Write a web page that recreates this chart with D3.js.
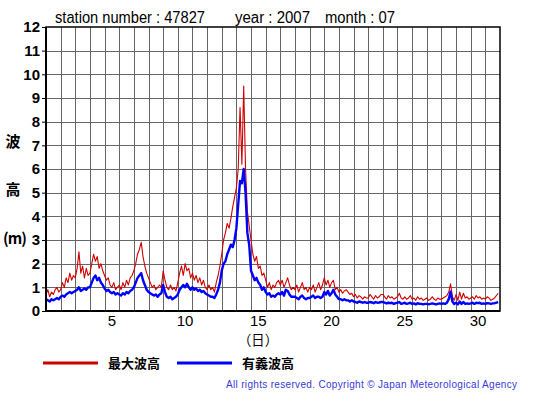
<!DOCTYPE html>
<html><head><meta charset="utf-8">
<script src="https://cdn.jsdelivr.net/npm/d3@7"></script>
<style>html,body{margin:0;padding:0;background:#fff;}svg{display:block;}</style>
</head><body>
<svg id="chart" width="555" height="395"></svg>
<script>
// ---- data (3-hourly, 8 values per day, July 2007, station 47827) ----
const days = d3.range(1, 32);
const xTickLabels = [5, 10, 15, 20, 25, 30];
const yTickLabels = d3.range(0, 13);
const seriesNames = ["最大波高", "有義波高"];
const maxWave = [
 0.7,0.9,0.6,0.8,0.7,0.9,1.0,0.8,
 0.9,1.2,1.0,1.4,1.2,1.6,1.3,1.5,
 1.4,1.8,2.5,1.6,1.9,1.4,1.8,1.5,
 1.6,2.0,2.4,2.1,2.3,1.8,2.0,1.7,
 1.5,1.3,1.4,1.1,1.0,1.2,0.9,1.0,
 1.1,0.9,1.2,1.0,1.3,1.1,1.4,1.5,
 1.7,2.0,2.4,2.6,2.9,2.3,1.9,1.6,
 1.4,1.2,1.0,1.1,0.9,1.0,1.1,1.0,
 1.7,1.3,1.0,0.9,1.1,0.9,1.0,0.85,
 1.2,1.6,1.9,1.5,2.0,1.7,1.8,1.4,
 1.6,1.3,1.5,1.2,1.4,1.1,1.3,1.0,
 0.9,1.1,0.9,1.0,0.8,1.2,1.5,1.9,
 2.4,3.0,3.3,3.7,3.5,3.9,4.4,4.8,
 5.2,6.0,8.6,6.2,9.5,6.0,4.2,3.6,
 3.0,2.4,2.1,2.3,1.8,1.9,1.5,1.6,
 1.3,1.0,1.2,0.9,1.1,1.0,1.2,1.3,
 1.1,1.3,1.0,1.2,1.4,1.1,0.9,1.0,
 0.9,1.1,0.8,1.0,1.2,0.9,1.0,0.8,
 1.0,0.9,1.1,0.8,1.0,1.2,0.9,1.1,
 1.4,1.1,1.3,1.0,1.2,1.3,0.9,1.0,
 0.8,0.9,0.75,0.85,0.9,0.8,0.7,0.75,
 0.6,0.7,0.55,0.65,0.6,0.5,0.6,0.55,
 0.55,0.7,0.6,0.5,0.65,0.55,0.6,0.7,
 0.7,0.6,0.5,0.65,0.55,0.6,0.5,0.55,
 0.6,0.75,0.55,0.5,0.6,0.5,0.55,0.65,
 0.5,0.55,0.45,0.6,0.5,0.55,0.45,0.5,
 0.55,0.45,0.5,0.6,0.5,0.45,0.55,0.5,
 0.5,0.55,0.6,0.65,0.8,1.15,0.6,0.45,
 0.7,0.45,0.8,0.5,0.75,0.55,0.6,0.5,
 0.55,0.6,0.5,0.65,0.55,0.6,0.5,0.55,
 0.5,0.6,0.55,0.45,0.5,0.55,0.65,0.75
];
const sigWave = [
 0.5,0.45,0.4,0.5,0.45,0.5,0.55,0.5,
 0.6,0.65,0.6,0.7,0.75,0.8,0.75,0.8,
 0.85,0.9,1.0,0.85,0.9,0.95,0.9,1.0,
 1.0,1.2,1.4,1.5,1.3,1.4,1.2,1.1,
 0.95,0.85,0.9,0.8,0.75,0.8,0.7,0.75,
 0.7,0.65,0.75,0.7,0.8,0.75,0.85,0.9,
 1.0,1.2,1.4,1.5,1.6,1.3,1.1,0.9,
 0.8,0.75,0.7,0.65,0.7,0.6,0.7,0.75,
 1.1,0.8,0.6,0.55,0.6,0.5,0.55,0.6,
 0.7,0.9,1.0,1.1,1.0,1.15,1.0,0.9,
 1.0,0.9,0.95,0.85,0.9,0.8,0.85,0.75,
 0.7,0.65,0.6,0.6,0.55,0.7,0.9,1.2,
 1.7,2.0,2.1,2.4,2.6,2.8,2.7,3.0,
 3.5,4.5,5.5,5.4,6.0,5.0,3.3,2.8,
 1.7,1.5,1.3,1.4,1.2,1.1,0.9,1.0,
 0.8,0.7,0.75,0.6,0.65,0.6,0.7,0.75,
 0.7,0.8,0.65,0.9,0.85,0.7,0.6,0.6,
 0.6,0.55,0.5,0.6,0.65,0.55,0.5,0.55,
 0.55,0.6,0.65,0.55,0.6,0.6,0.55,0.6,
 0.8,0.7,0.85,0.65,0.75,0.9,0.7,0.6,
 0.5,0.5,0.45,0.5,0.45,0.45,0.4,0.45,
 0.4,0.38,0.35,0.4,0.38,0.35,0.38,0.35,
 0.35,0.38,0.36,0.33,0.38,0.35,0.36,0.38,
 0.38,0.35,0.32,0.35,0.33,0.35,0.3,0.33,
 0.35,0.38,0.3,0.32,0.35,0.3,0.32,0.35,
 0.3,0.32,0.28,0.33,0.3,0.3,0.28,0.3,
 0.3,0.28,0.3,0.32,0.3,0.28,0.3,0.32,
 0.3,0.32,0.3,0.35,0.5,0.82,0.4,0.3,
 0.35,0.28,0.4,0.3,0.38,0.3,0.32,0.3,
 0.32,0.35,0.3,0.35,0.33,0.35,0.3,0.32,
 0.3,0.33,0.32,0.3,0.32,0.33,0.35,0.38
];
const stepsPerDay = 8;

// ---- layout ----
const svg = d3.select("#chart");
const L = 46, R = 500, T = 27, B = 311;
const x = d3.scaleLinear().domain([0, days.length]).range([L, R]);
const y = d3.scaleLinear().domain([0, 12]).range([B, T]);
const FONT = "'Liberation Sans', Arial, Helvetica, sans-serif";
const CJK = "'Noto Sans CJK JP', sans-serif";

// header
const hdr = svg.append("g").attr("font-family", FONT).attr("font-size", 16).attr("fill", "#000");
hdr.append("text").attr("x", 55).attr("y", 23).attr("textLength", 150).attr("lengthAdjust", "spacingAndGlyphs").text("station number : 47827");
hdr.append("text").attr("x", 235).attr("y", 23).attr("textLength", 75).attr("lengthAdjust", "spacingAndGlyphs").text("year : 2007");
hdr.append("text").attr("x", 325).attr("y", 23).attr("textLength", 70).attr("lengthAdjust", "spacingAndGlyphs").text("month : 07");

// grid
const grid = svg.append("g").attr("stroke", "#666").attr("stroke-width", 1).attr("shape-rendering", "crispEdges");
grid.selectAll("line.v").data(d3.range(1, days.length)).join("line")
  .attr("x1", d => Math.round(x(d)) + 0.5).attr("x2", d => Math.round(x(d)) + 0.5)
  .attr("y1", T).attr("y2", B);
grid.selectAll("line.h").data(d3.range(1, 12)).join("line")
  .attr("y1", d => Math.round(y(d)) + 0.5).attr("y2", d => Math.round(y(d)) + 0.5)
  .attr("x1", L).attr("x2", R);

// y axis ticks + labels
const yAxis = d3.axisLeft(y).tickValues(yTickLabels).tickSize(4).tickPadding(2).tickFormat(d3.format("d"));
const gy = svg.append("g").attr("transform", `translate(${L},0)`).call(yAxis);
gy.select(".domain").remove();
gy.selectAll(".tick line").attr("stroke", "#000");
gy.selectAll(".tick text").attr("font-family", FONT).attr("font-size", 15).attr("font-weight", "bold").attr("fill", "#000");

// x axis labels at mid-day
const gx = svg.append("g").attr("font-family", FONT).attr("font-size", 15).attr("text-anchor", "middle");
gx.selectAll("text").data(xTickLabels).join("text")
  .attr("x", d => x(d - 0.5)).attr("y", 326).text(d => d);
svg.append("text").attr("x", 258).attr("y", 345).attr("text-anchor", "middle")
  .attr("font-family", CJK).attr("font-size", 14).text("（日）")
  .attr("textLength", 40).attr("lengthAdjust", "spacingAndGlyphs");

// y title
const yt = svg.append("g").attr("font-family", CJK).attr("font-size", 15).attr("font-weight", "bold").attr("text-anchor", "middle");
yt.append("text").attr("x", 13).attr("y", 147).text("波");
yt.append("text").attr("x", 13).attr("y", 195).text("高");
yt.append("text").attr("x", 15).attr("y", 244).text("(m)").attr("textLength", 24).attr("lengthAdjust", "spacing");

// lines
const pts = arr => arr.map((v, i) => [i / stepsPerDay, v]);
const line = d3.line().x(d => x(d[0])).y(d => y(d[1]));
const plot = svg.append("g");
plot.append("path").datum(pts(maxWave)).attr("d", line).attr("fill", "none")
  .attr("stroke", "#d00000").attr("stroke-width", 1.1).attr("stroke-linejoin", "round");
plot.append("path").datum(pts(sigWave)).attr("d", line).attr("fill", "none")
  .attr("stroke", "#0000ff").attr("stroke-width", 2.4).attr("stroke-linejoin", "round");

// frame
svg.append("rect").attr("x", L).attr("y", T).attr("width", R - L).attr("height", B - T)
  .attr("fill", "none").attr("stroke", "#000").attr("stroke-width", 1.5);
svg.append("line").attr("x1", L).attr("x2", L).attr("y1", T).attr("y2", B).attr("stroke", "#000").attr("stroke-width", 2);
svg.append("line").attr("x1", L).attr("x2", R).attr("y1", B).attr("y2", B).attr("stroke", "#000").attr("stroke-width", 2);

// legend
const colors = ["#cc0000", "#0000ff"];
const legX = [43, 177];
const leg = svg.append("g");
seriesNames.forEach((name, i) => {
  leg.append("line").attr("x1", legX[i]).attr("x2", legX[i] + 55).attr("y1", 363).attr("y2", 363)
    .attr("stroke", colors[i]).attr("stroke-width", 3);
  leg.append("text").attr("x", legX[i] + 65).attr("y", 368).attr("font-family", CJK)
    .attr("font-size", 13).attr("font-weight", "bold").text(name);
});

// footer
svg.append("text").attr("x", 226).attr("y", 388).attr("font-family", FONT).attr("font-size", 10)
  .attr("fill", "#3a3ad6").attr("textLength", 291).attr("lengthAdjust", "spacing")
  .text("All rights reserved. Copyright © Japan Meteorological Agency");
</script>
</body></html>
